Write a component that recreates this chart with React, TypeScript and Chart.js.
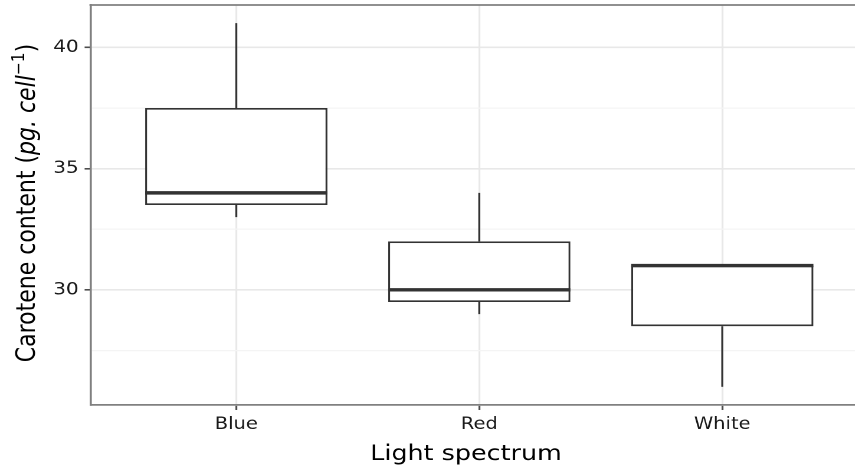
import React, { useEffect, useRef } from 'react';
import { Chart, registerables } from 'chart.js';

Chart.register(...registerables);

// ---- data ----
const categories = ['Blue', 'Red', 'White'];
const whiskerLow = [33, 29, 26];
const q1 = [33.5, 29.5, 28.5];
const median = [34, 30, 31];
const q3 = [37.5, 32, 31];
const whiskerHigh = [41, 34, 31];
const yTicks = [27.5, 30, 32.5, 35, 37.5, 40];
const xTitle = 'Light spectrum';

// ---- layout ----
const OUT_W = 856;
const OUT_H = 466;
const STRETCH = 1.18;
const W = OUT_W / STRETCH;
const PLOT_LEFT = 90.5 / STRETCH;
const FONT = '"DejaVu Sans"';
const BOX_HALF = 0.375;
const INK = '#333333';

const boxPlugin = {
  id: 'boxExtras',
  beforeDatasetsDraw(chart: any) {
    const { ctx } = chart;
    const xs = chart.scales.x;
    const ys = chart.scales.y;
    ctx.save();
    ctx.strokeStyle = INK;
    ctx.lineWidth = 1.7;
    categories.forEach((_, i) => {
      const x = xs.getPixelForValue(i + 1);
      ctx.beginPath();
      ctx.moveTo(x, ys.getPixelForValue(q3[i]));
      ctx.lineTo(x, ys.getPixelForValue(whiskerHigh[i]));
      ctx.moveTo(x, ys.getPixelForValue(q1[i]));
      ctx.lineTo(x, ys.getPixelForValue(whiskerLow[i]));
      ctx.stroke();
    });
    ctx.restore();
  },
  afterDatasetsDraw(chart: any) {
    const { ctx, chartArea } = chart;
    const xs = chart.scales.x;
    const ys = chart.scales.y;
    ctx.save();
    ctx.strokeStyle = INK;
    ctx.lineWidth = 3.4;
    categories.forEach((_, i) => {
      const y = ys.getPixelForValue(median[i]);
      ctx.beginPath();
      ctx.moveTo(xs.getPixelForValue(i + 1 - BOX_HALF), y);
      ctx.lineTo(xs.getPixelForValue(i + 1 + BOX_HALF), y);
      ctx.stroke();
    });
    // top panel border
    ctx.strokeStyle = '#808080';
    ctx.lineWidth = 1.8;
    ctx.beginPath();
    ctx.moveTo(chartArea.left - 0.9, chartArea.top);
    ctx.lineTo(chartArea.right + 2, chartArea.top);
    ctx.stroke();
    ctx.restore();
  },
  afterDraw(chart: any) {
    const { ctx } = chart;
    ctx.save();
    ctx.fillStyle = '#000000';
    // x title
    ctx.font = `21.5px ${FONT}`;
    ctx.textAlign = 'center';
    ctx.textBaseline = 'alphabetic';
    ctx.fillText(xTitle, 466 / STRETCH, 460);
    // y title with italic unit and superscript
    const segs = [
      { t: 'Carotene content (', f: `22px ${FONT}`, dy: 0 },
      { t: 'pg. cell', f: `italic 22px ${FONT}`, dy: 0 },
      { t: '\u22121', f: `15.5px ${FONT}`, dy: -9 },
      { t: ')', f: `22px ${FONT}`, dy: 0 },
    ];
    let total = 0;
    const widths = segs.map((s) => {
      ctx.font = s.f;
      const w = ctx.measureText(s.t).width;
      total += w;
      return w;
    });
    ctx.translate(29.5, 203);
    ctx.rotate(-Math.PI / 2);
    ctx.textAlign = 'left';
    let x = -total / 2;
    segs.forEach((s, i) => {
      ctx.font = s.f;
      ctx.fillText(s.t, x, s.dy);
      x += widths[i];
    });
    ctx.restore();
  },
};

export default function App() {
  const ref = useRef<HTMLCanvasElement | null>(null);
  useEffect(() => {
    if (!ref.current) return;
    const chart = new Chart(ref.current, {
      type: 'bar',
      data: {
        datasets: [
          {
            data: categories.map((_, i) => ({ x: i + 1, y: [q1[i], q3[i]] })) as any,
            backgroundColor: '#ffffff',
            borderColor: INK,
            borderWidth: 1.7,
            borderSkipped: false,
            barPercentage: 0.75,
            categoryPercentage: 1,
          },
        ],
      },
      options: {
        animation: false,
        responsive: true,
        maintainAspectRatio: false,
        devicePixelRatio: 2,
        layout: { padding: { top: 5, right: 0, bottom: 0, left: 0 } },
        plugins: { legend: { display: false }, tooltip: { enabled: false }, title: { display: false } },
        scales: {
          x: {
            type: 'linear',
            offset: false,
            min: 0.4,
            max: 0.4 + (W - PLOT_LEFT) / (486 / STRETCH / 2),
            afterBuildTicks: (scale: any) => {
              scale.ticks = categories.map((_, i) => ({ value: i + 1 }));
            },
            afterFit: (scale: any) => {
              scale.height = OUT_H - 405;
              scale.paddingLeft = 0;
              scale.paddingRight = 0;
              scale.paddingTop = 0;
              scale.paddingBottom = 0;
            },
            ticks: {
              autoSkip: false,
              maxRotation: 0,
              padding: 5,
              color: '#1a1a1a',
              font: { family: 'DejaVu Sans', size: 16.5 },
              callback: (v: any) => categories[Number(v) - 1] ?? '',
            },
            grid: {
              offset: false,
              color: '#e8e8e8',
              lineWidth: 1.6,
              tickColor: '#4d4d4d',
              tickLength: 5,
              drawTicks: true,
            },
            border: { display: true, color: '#808080', width: 1.8 },
          },
          y: {
            type: 'linear',
            min: 25.25,
            max: 41.75,
            afterBuildTicks: (scale: any) => {
              scale.ticks = yTicks.map((v) => ({ value: v }));
            },
            afterFit: (scale: any) => {
              scale.width = PLOT_LEFT;
              scale.paddingLeft = 0;
              scale.paddingRight = 0;
              scale.paddingTop = 0;
              scale.paddingBottom = 0;
            },
            ticks: {
              autoSkip: false,
              padding: 5,
              color: '#1a1a1a',
              font: { family: 'DejaVu Sans', size: 17 },
              callback: (v: any) => (Number(v) % 5 === 0 ? String(v) : ''),
            },
            grid: {
              color: (c: any) => (c.tick && c.tick.value % 5 === 0 ? '#e8e8e8' : '#f4f4f4'),
              lineWidth: (c: any) => (c.tick && c.tick.value % 5 === 0 ? 1.6 : 1.2),
              tickColor: (c: any) => (c.tick && c.tick.value % 5 === 0 ? '#4d4d4d' : 'rgba(0,0,0,0)'),
              tickLength: 5,
              drawTicks: true,
            },
            border: { display: true, color: '#808080', width: 1.8 },
          },
        },
      },
      plugins: [boxPlugin],
    });
    return () => chart.destroy();
  }, []);

  return (
    <div
      style={{
        position: 'fixed',
        left: 0,
        top: 0,
        width: OUT_W,
        height: OUT_H,
        overflow: 'hidden',
        background: '#ffffff',
      }}
    >
      <div
        style={{
          position: 'relative',
          width: W,
          height: OUT_H,
          transform: `scaleX(${STRETCH})`,
          transformOrigin: '0 0',
        }}
      >
        <canvas ref={ref} />
      </div>
    </div>
  );
}
